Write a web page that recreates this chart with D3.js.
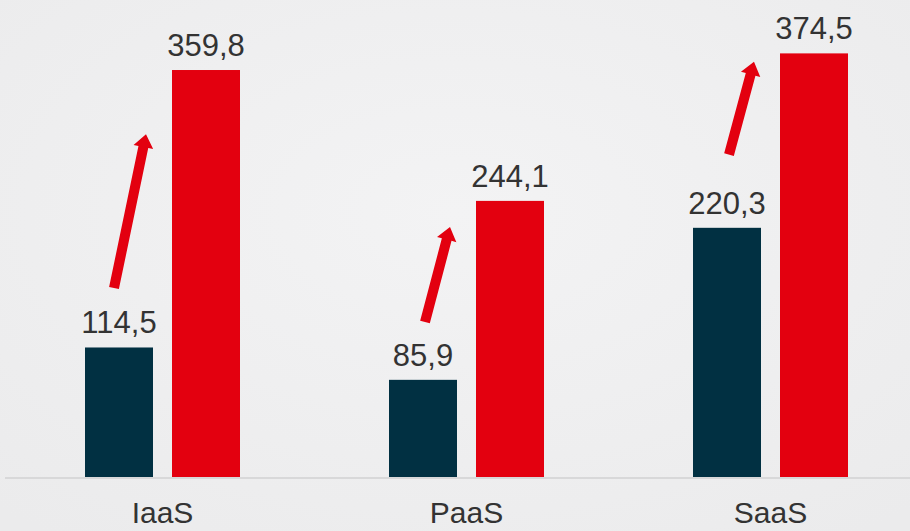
<!DOCTYPE html>
<html>
<head>
<meta charset="utf-8">
<script src="https://cdn.jsdelivr.net/npm/d3@7"></script>
<style>
  body { margin: 0; background: #efeff0; }
  svg { display: block; }
  text { font-family: "Liberation Sans", Arial, sans-serif; fill: #333; }
</style>
</head>
<body>
<svg id="chart" width="910" height="531"></svg>
<script>
// values
const categories = ["IaaS", "PaaS", "SaaS"];
const series = ["before", "after"];
const before = [114.5, 85.9, 220.3];
const after = [359.8, 244.1, 374.5];
const labelsBefore = ["114,5", "85,9", "220,3"];
const labelsAfter = ["359,8", "244,1", "374,5"];
// arrow annotations, in value units: tail and tip height
const arrowFrom = [167, 137, 285];
const arrowTo = [303, 221, 367];

const width = 910, height = 531;
const baseY = 477;
const colors = { before: "#013042", after: "#e3000f" };

const svg = d3.select("#chart");

// soft background
const defs = svg.append("defs");
const grad = defs.append("radialGradient").attr("id", "bg")
  .attr("cx", "50%").attr("cy", "40%").attr("r", "75%");
grad.append("stop").attr("offset", "0%").attr("stop-color", "#f3f3f4");
grad.append("stop").attr("offset", "100%").attr("stop-color", "#ebebec");
svg.append("rect").attr("width", width).attr("height", height).attr("fill", "url(#bg)");

const x = d3.scaleBand().domain(categories).range([10.5, 922.5]);
const xInner = d3.scaleBand().domain(series).range([0, 155]).paddingInner(19 / 87);
const y = d3.scaleLinear().domain([0, 421.7]).range([baseY, 0]);

const rows = categories.map((c, i) => ({
  cat: c,
  vals: [
    { key: "before", v: before[i], label: labelsBefore[i] },
    { key: "after", v: after[i], label: labelsAfter[i] }
  ],
  from: arrowFrom[i],
  to: arrowTo[i]
}));

// baseline
svg.append("line")
  .attr("x1", 5).attr("x2", width)
  .attr("y1", baseY + 1).attr("y2", baseY + 1)
  .attr("stroke", "#d8d8d9").attr("stroke-width", 2);

const groups = svg.selectAll("g.grp").data(rows).enter().append("g")
  .attr("class", "grp")
  .attr("transform", d => `translate(${x(d.cat) + x.bandwidth() / 2 - 77.5},0)`);

groups.selectAll("rect").data(d => d.vals).enter().append("rect")
  .attr("x", d => xInner(d.key))
  .attr("width", xInner.bandwidth())
  .attr("y", d => y(d.v))
  .attr("height", d => y(0) - y(d.v))
  .attr("fill", d => colors[d.key]);

groups.selectAll("text.val").data(d => d.vals).enter().append("text")
  .attr("class", "val")
  .attr("x", d => xInner(d.key) + xInner.bandwidth() / 2)
  .attr("y", d => y(d.v) - 14)
  .attr("text-anchor", "middle")
  .style("font-size", "31px")
  .text(d => d.label);

// category axis labels
svg.selectAll("text.cat").data(categories).enter().append("text")
  .attr("class", "cat")
  .attr("x", d => x(d) + x.bandwidth() / 2)
  .attr("y", 523)
  .attr("text-anchor", "middle")
  .style("font-size", "30px")
  .text(d => d);

// arrows
function arrowPath(x0, y0, x1, y1) {
  const dx = x1 - x0, dy = y1 - y0;
  const len = Math.sqrt(dx * dx + dy * dy);
  const ux = dx / len, uy = dy / len;
  const px = -uy, py = ux;
  const sw = 5, hw = 10, hl = 13;
  const bx = x1 - ux * hl, by = y1 - uy * hl;
  const pts = [
    [x0 + px * sw, y0 + py * sw],
    [bx + px * sw, by + py * sw],
    [bx + px * hw, by + py * hw],
    [x1, y1],
    [bx - px * hw, by - py * hw],
    [bx - px * sw, by - py * sw],
    [x0 - px * sw, y0 - py * sw]
  ];
  return d3.line()(pts) + "Z";
}

groups.append("path")
  .attr("d", (d, i) => arrowPath(i === 0 ? 29 : 36, y(d.from), 61, y(d.to)))
  .attr("fill", colors.after);
</script>
</body>
</html>
